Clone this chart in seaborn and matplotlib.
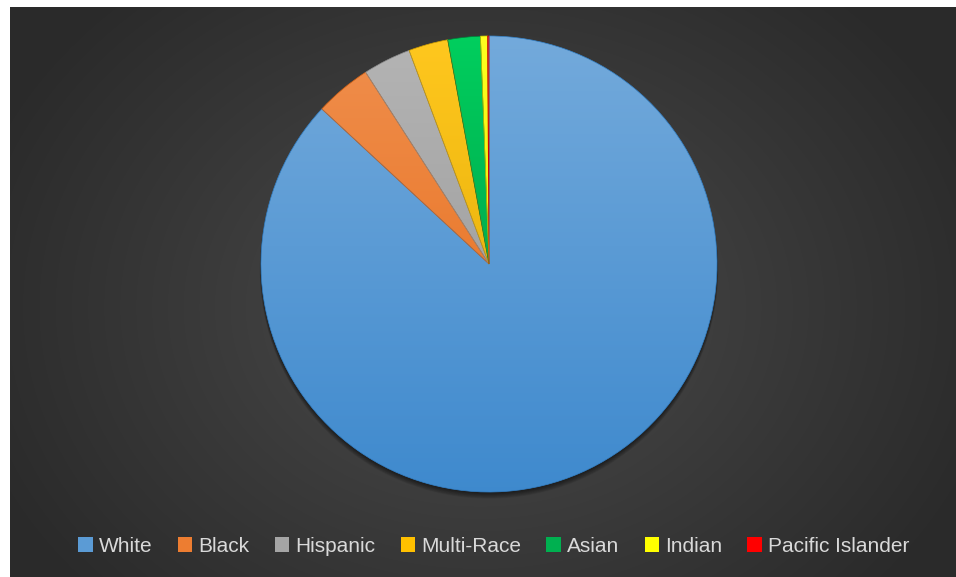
import colorsys
import numpy as np
import matplotlib
matplotlib.use("Agg")
import matplotlib.pyplot as plt
import matplotlib.colors as mcolors
from matplotlib.patches import Patch, Circle
import seaborn as sns

# Population share by race (%)
categories = ["White", "Black", "Hispanic", "Multi-Race", "Asian", "Indian", "Pacific Islander"]
shares = [86.9, 4.0, 3.4, 2.8, 2.3, 0.5, 0.1]
slice_colors = ["#5B9BD5", "#ED7D31", "#A5A5A5", "#FFC000", "#00B050", "#FFFF00", "#FF0000"]

sns.set_theme(style="white")
plt.rcParams["font.family"] = ["Liberation Sans Narrow", "Liberation Sans", "DejaVu Sans"]
palette = sns.color_palette(slice_colors)

W, H = 956, 577
fig = plt.figure(figsize=(W / 100, H / 100), dpi=100, facecolor="white")

# dark radial-gradient chart background
bg = fig.add_axes([10 / W, 0, (W - 10) / W, (H - 7) / H])
bg.set_axis_off()
yy, xx = np.mgrid[0:570, 0:946]
cx, cy = 470, 300
d = np.sqrt(((xx - cx) / 540.0) ** 2 + ((yy - cy) / 430.0) ** 2)
d = np.clip(d, 0, 1) ** 0.9
c_in = np.array(mcolors.to_rgb("#4e4e4e"))
c_out = np.array(mcolors.to_rgb("#2a2a2a"))
img = c_in[None, None, :] * (1 - d[..., None]) + c_out[None, None, :] * d[..., None]
bg.imshow(img, aspect="auto", extent=(0, 1, 0, 1), origin="upper")
bg.set_xlim(0, 1)
bg.set_ylim(0, 1)

# pie axes: center (489, 264) px, radius 228 px
R = 228
pcx, pcy = 489, H - 264
ax = fig.add_axes([(pcx - R) / W, (pcy - R) / H, 2 * R / W, 2 * R / H])
ax.set_axis_off()

# soft drop shadow falling below the pie
for k in range(10):
    ax.add_patch(Circle((0, -0.004 - 0.0022 * k), 1.0 + 0.0006 * k, facecolor="black",
                        alpha=0.06, edgecolor="none", zorder=0, clip_on=False))

wedges, _ = ax.pie(shares, colors=palette, startangle=90, counterclock=False,
                   radius=1.0, wedgeprops=dict(linewidth=0.5, zorder=2))


def shade(rgb, dl):
    h, l, s = colorsys.rgb_to_hls(*rgb)
    return np.array(colorsys.hls_to_rgb(h, min(max(l + dl, 0), 1), s))


# vertical gradient fill in each slice: lighter at top, darker at bottom
t = np.linspace(0, 1, 256)[:, None]
for w, col in zip(wedges, palette):
    base = np.array(mcolors.to_rgb(col))
    top = shade(base, 0.06)
    bot = shade(base, -0.07)
    grad = top[None, None, :] * (1 - t[..., None]) + bot[None, None, :] * t[..., None]
    grad = np.repeat(grad, 2, axis=1)
    im = ax.imshow(grad, extent=(-1, 1, -1, 1), origin="upper", aspect="auto",
                   zorder=3, clip_on=True)
    im.set_clip_path(w)
    w.set_edgecolor(tuple(shade(base, -0.1)))
    w.set_zorder(4)
    w.set_facecolor("none")

ax.set_aspect("equal")
ax.set_xlim(-1, 1)
ax.set_ylim(-1, 1)

handles = [Patch(facecolor=c, edgecolor="none") for c in palette]
leg = fig.legend(handles, categories, loc="center", bbox_to_anchor=(494 / W, 1 - 546 / H),
                 ncol=len(categories), frameon=False, fontsize=15,
                 handlelength=0.7, handleheight=0.7, handletextpad=0.3,
                 columnspacing=1.2)
for txt in leg.get_texts():
    txt.set_color("#d9d9d9")

fig.savefig("out.png", dpi=100, facecolor="white")
